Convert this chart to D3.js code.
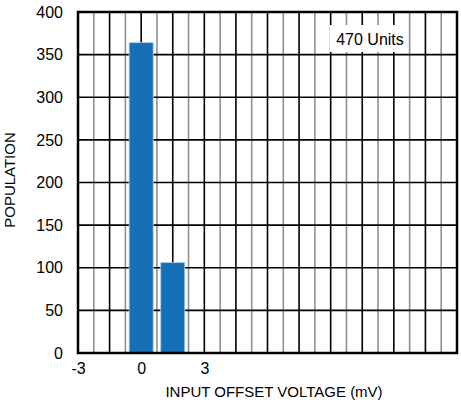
<!DOCTYPE html>
<html>
<head>
<meta charset="utf-8">
<script src="https://cdn.jsdelivr.net/npm/d3@7"></script>
<style>
  body { margin: 0; background: #fff; }
  svg { display: block; font-family: "Liberation Sans", Arial, sans-serif; }
</style>
</head>
<body>
<svg id="chart" width="461" height="406"></svg>
<script>
'use strict'

// --- data
let binCenters = [0, 1.5]
let binCounts = [364, 106]
let xTickValues = [-3, 0, 3]
let yTickValues = [0, 50, 100, 150, 200, 250, 300, 350, 400]
let legendText = '470 Units'

let svg = d3.select('#chart')

// --------------------------------------------------------------------
// ------------------------------------------ POSITIONNING DATA -------

let plotLeft = 78, plotRight = 457, plotTop = 12, plotBottom = 353

let xScale = d3.scaleLinear().domain([-3, 15]).range([plotLeft, plotRight])
let yScale = d3.scaleLinear().domain([0, 400]).range([plotBottom, plotTop])

// --------------------------------------------------------------------
// ------------------------------------------------------ GRIDS -------

let gridG = svg.append('g')

// vertical lines every 0.75 mV, dark ones every 1.5
let vLines = d3.range(1, 24).map(i => -3 + i*0.75)
gridG.selectAll('line.v').data(vLines)
  .enter().append('line')
    .attr('class', 'v')
    .attr('x1', d => xScale(d)).attr('x2', d => xScale(d))
    .attr('y1', plotTop).attr('y2', plotBottom)
    .attr('stroke', (d,i) => i % 2 == 0 ? '#8f8f8f' : '#000')
    .attr('stroke-width', 1.6)

gridG.selectAll('line.h').data(yTickValues.slice(1, -1))
  .enter().append('line')
    .attr('class', 'h')
    .attr('x1', plotLeft).attr('x2', plotRight)
    .attr('y1', d => yScale(d)).attr('y2', d => yScale(d))
    .attr('stroke', '#000')
    .attr('stroke-width', 1.6)

// --------------------------------------------------------------------
// ------------------------------------------------------- BARS -------

let barW = 1.14
svg.append('g').selectAll('rect').data(binCenters)
  .enter().append('rect')
    .attr('x', d => xScale(d - barW/2))
    .attr('width', xScale(barW) - xScale(0))
    .attr('y', (d,i) => yScale(binCounts[i]))
    .attr('height', (d,i) => yScale(0) - yScale(binCounts[i]))
    .attr('fill', '#1570b8')
    .attr('stroke', '#a9cbe6')
    .attr('stroke-width', 0.8)

// --- legend box
svg.append('rect')
  .attr('x', 330).attr('y', 25)
  .attr('width', 78).attr('height', 27)
  .attr('fill', '#fff')
svg.append('text')
  .attr('x', 370).attr('y', 45)
  .attr('text-anchor', 'middle')
  .attr('font-size', 16)
  .attr('fill', '#000')
  .text(legendText)

// --- frame
svg.append('rect')
  .attr('x', plotLeft).attr('y', plotTop)
  .attr('width', plotRight - plotLeft).attr('height', plotBottom - plotTop)
  .attr('fill', 'none')
  .attr('stroke', '#000')
  .attr('stroke-width', 2.5)

// --------------------------------------------------------------------
// ------------------------------------------------------- AXIS -------

let x_axis = d3.axisBottom(xScale).tickValues(xTickValues)
  .tickFormat(d => String(d)).tickSize(0).tickPadding(10)
let y_axis = d3.axisLeft(yScale).tickValues(yTickValues).tickSize(0).tickPadding(15)

let xg = svg.append('g')
  .attr('transform', 'translate(0,' + plotBottom + ')')
  .call(x_axis)
let yg = svg.append('g')
  .attr('transform', 'translate(' + plotLeft + ',0)')
  .call(y_axis)

;[xg, yg].forEach(g => {
  g.select('.domain').remove()
  g.selectAll('text')
    .attr('font-size', 16)
    .attr('font-family', '"Liberation Sans", Arial, sans-serif')
    .attr('fill', '#000')
})

svg.append('text')
  .attr('x', 274).attr('y', 397)
  .attr('text-anchor', 'middle')
  .attr('font-size', 15)
  .text('INPUT OFFSET VOLTAGE (mV)')

svg.append('text')
  .attr('transform', 'translate(15,180) rotate(-90)')
  .attr('text-anchor', 'middle')
  .attr('font-size', 15)
  .text('POPULATION')
</script>
</body>
</html>
